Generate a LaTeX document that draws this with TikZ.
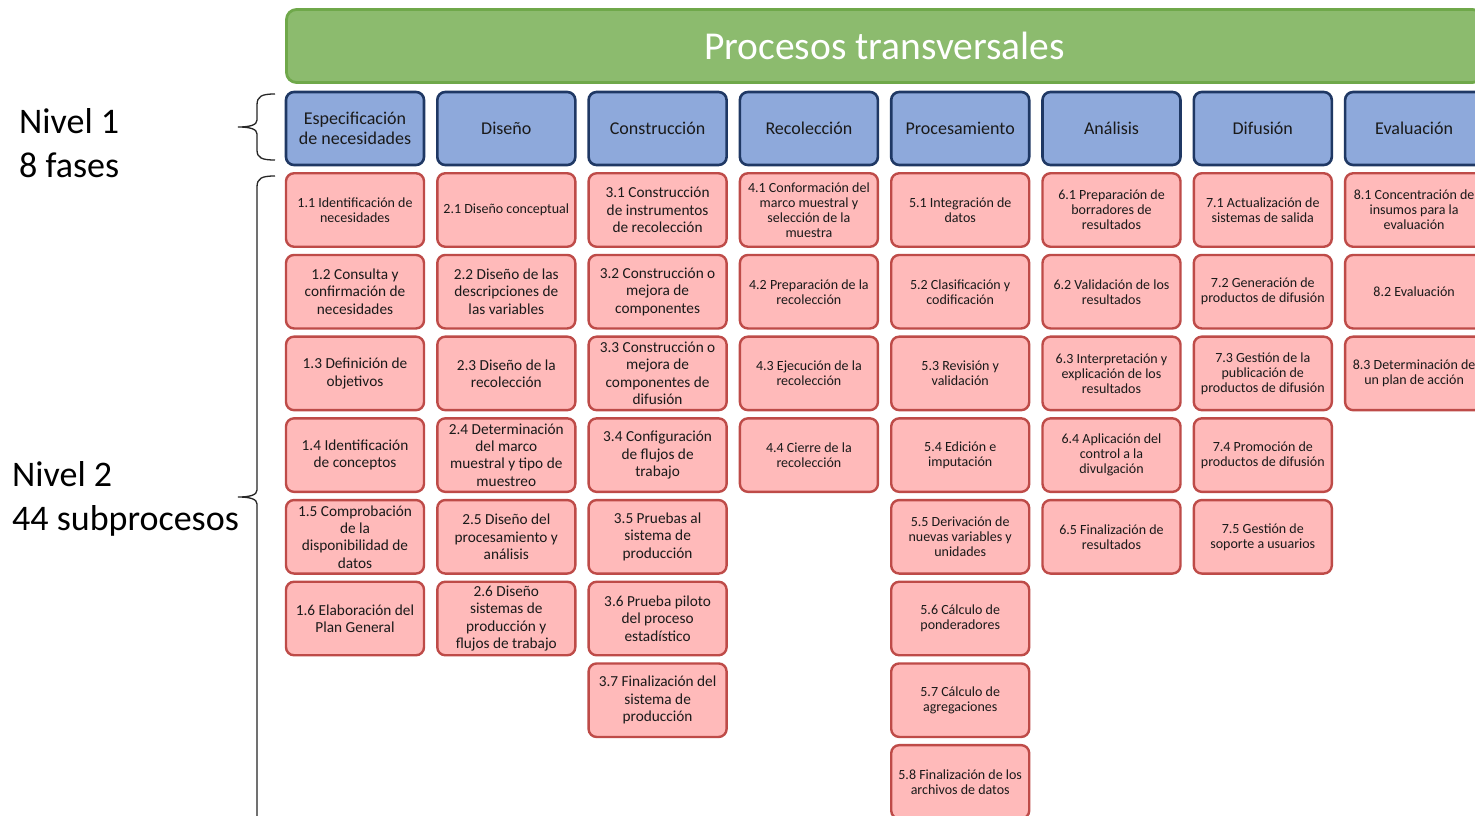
\documentclass[tikz,border=0pt]{standalone}
\usepackage{fontspec}
\setmainfont{Carlito}
\definecolor{greenF}{HTML}{8CBB6E}
\definecolor{greenB}{HTML}{6FA84A}
\definecolor{blueF}{HTML}{8EA9DB}
\definecolor{blueB}{HTML}{1F3864}
\definecolor{pinkF}{HTML}{FFBABA}
\definecolor{pinkB}{HTML}{BE4B48}
\definecolor{txt}{HTML}{1A1A1A}
\newcommand{\subbox}[5]{\node[sub,#4] (#1) at ({355+(#2-1)*151.3},{210+(#3-1)*81.7}) {#5};}
\newcommand{\phasebox}[3]{\node[phase] (#1) at ({355+(#2-1)*151.3},128.5) {#3};}
\begin{document}
\begin{tikzpicture}[x=1pt,y=-1pt,
  sub/.style={draw=pinkB, fill=pinkF, line width=2.4pt, rounded corners=8pt,
    minimum width=138pt, minimum height=73.5pt, inner sep=1pt, align=center, text=txt},
  big/.style={font=\fontsize{15.3}{17.3}\selectfont},
  small/.style={font=\fontsize{14}{15}\selectfont},
  phase/.style={draw=blueB, fill=blueF, line width=2.6pt, rounded corners=8pt,
    minimum width=138pt, minimum height=73pt, inner sep=1pt, align=center, text=txt,
    font=\fontsize{18}{20}\selectfont},
  header/.style={draw=greenB, fill=greenF, line width=2.8pt, rounded corners=10pt,
    minimum width=1196pt, minimum height=73pt, text=white, font=\fontsize{39.5}{44}\selectfont},
  label/.style={anchor=base west, text=black, inner sep=0pt, font=\fontsize{36}{44}\selectfont},
  bracestyle/.style={draw=black!85, line width=1.3pt}]
\useasboundingbox (0,0) rectangle (1475,816);
\clip (0,0) rectangle (1475,816);
\fill[white] (0,0) rectangle (1475,816);

% header
\node[header] (pt) at (884.5,46) {Procesos transversales};

% phases
\phasebox{f1}{1}{Especificación\\de necesidades}
\phasebox{f2}{2}{Diseño}
\phasebox{f3}{3}{Construcción}
\phasebox{f4}{4}{Recolección}
\phasebox{f5}{5}{Procesamiento}
\phasebox{f6}{6}{Análisis}
\phasebox{f7}{7}{Difusión}
\phasebox{f8}{8}{Evaluación}

% column 1
\subbox{s11}{1}{1}{small}{1.1 Identificación de\\necesidades}
\subbox{s12}{1}{2}{big}{1.2 Consulta y\\confirmación de\\necesidades}
\subbox{s13}{1}{3}{big}{1.3 Definición de\\objetivos}
\subbox{s14}{1}{4}{big}{1.4 Identificación\\de conceptos}
\subbox{s15}{1}{5}{big}{1.5 Comprobación\\de la\\disponibilidad de\\datos}
\subbox{s16}{1}{6}{big}{1.6 Elaboración del\\Plan General}
% column 2
\subbox{s21}{2}{1}{small}{2.1 Diseño conceptual}
\subbox{s22}{2}{2}{big}{2.2 Diseño de las\\descripciones de\\las variables}
\subbox{s23}{2}{3}{big}{2.3 Diseño de la\\recolección}
\subbox{s24}{2}{4}{big}{2.4 Determinación\\del marco\\muestral y tipo de\\muestreo}
\subbox{s25}{2}{5}{big}{2.5 Diseño del\\procesamiento y\\análisis}
\subbox{s26}{2}{6}{big}{2.6 Diseño\\sistemas de\\producción y\\flujos de trabajo}
% column 3
\subbox{s31}{3}{1}{big}{3.1 Construcción\\de instrumentos\\de recolección}
\subbox{s32}{3}{2}{big}{3.2 Construcción o\\mejora de\\componentes}
\subbox{s33}{3}{3}{big}{3.3 Construcción o\\mejora de\\componentes de\\difusión}
\subbox{s34}{3}{4}{big}{3.4 Configuración\\de flujos de\\trabajo}
\subbox{s35}{3}{5}{big}{3.5 Pruebas al\\sistema de\\producción}
\subbox{s36}{3}{6}{big}{3.6 Prueba piloto\\del proceso\\estadístico}
\subbox{s37}{3}{7}{big}{3.7 Finalización del\\sistema de\\producción}
% column 4
\subbox{s41}{4}{1}{small}{4.1 Conformación del\\marco muestral y\\selección de la\\muestra}
\subbox{s42}{4}{2}{small}{4.2 Preparación de la\\recolección}
\subbox{s43}{4}{3}{small}{4.3 Ejecución de la\\recolección}
\subbox{s44}{4}{4}{small}{4.4 Cierre de la\\recolección}
% column 5
\subbox{s51}{5}{1}{small}{5.1 Integración de\\datos}
\subbox{s52}{5}{2}{small}{5.2 Clasificación y\\codificación}
\subbox{s53}{5}{3}{small}{5.3 Revisión y\\validación}
\subbox{s54}{5}{4}{small}{5.4 Edición e\\imputación}
\subbox{s55}{5}{5}{small}{5.5 Derivación de\\nuevas variables y\\unidades}
\subbox{s56}{5}{6}{small}{5.6 Cálculo de\\ponderadores}
\subbox{s57}{5}{7}{small}{5.7 Cálculo de\\agregaciones}
\subbox{s58}{5}{8}{small}{5.8 Finalización de los\\archivos de datos}
% column 6
\subbox{s61}{6}{1}{small}{6.1 Preparación de\\borradores de\\resultados}
\subbox{s62}{6}{2}{small}{6.2 Validación de los\\resultados}
\subbox{s63}{6}{3}{small}{6.3 Interpretación y\\explicación de los\\resultados}
\subbox{s64}{6}{4}{small}{6.4 Aplicación del\\control a la\\divulgación}
\subbox{s65}{6}{5}{small}{6.5 Finalización de\\resultados}
% column 7
\subbox{s71}{7}{1}{small}{7.1 Actualización de\\sistemas de salida}
\subbox{s72}{7}{2}{small}{7.2 Generación de\\productos de difusión}
\subbox{s73}{7}{3}{small}{7.3 Gestión de la\\publicación de\\productos de difusión}
\subbox{s74}{7}{4}{small}{7.4 Promoción de\\productos de difusión}
\subbox{s75}{7}{5}{small}{7.5 Gestión de\\soporte a usuarios}
% column 8
\subbox{s81}{8}{1}{small}{8.1 Concentración de\\insumos para la\\evaluación}
\subbox{s82}{8}{2}{small}{8.2 Evaluación}
\subbox{s83}{8}{3}{small}{8.3 Determinación de\\un plan de acción}

% left labels
\node[label] (n1a) at (19,133) {Nivel 1};
\node[label] (n1b) at (19,177) {8 fases};
\node[label] (n2a) at (12,486) {Nivel 2};
\node[label] (n2b) at (12,530) {44 subprocesos};

% braces
\draw[bracestyle] (275,94) .. controls (262,94) and (257,96) .. (257,105) -- (257,120)
  .. controls (257,125) and (250,127) .. (238,127)
  .. controls (250,127) and (257,129) .. (257,134) -- (257,150)
  .. controls (257,158) and (262,160) .. (275,160);
\draw[bracestyle] (275,176) .. controls (262,176) and (257,178) .. (257,187) -- (257,490)
  .. controls (257,495) and (250,497) .. (238,497)
  .. controls (250,497) and (257,499) .. (257,504) -- (257,830);
\end{tikzpicture}
\end{document}
